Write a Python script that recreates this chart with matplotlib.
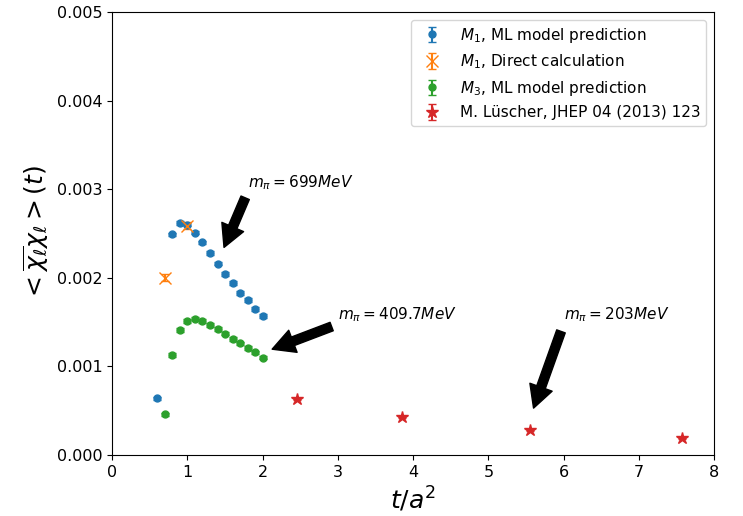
import numpy as np
import matplotlib
matplotlib.use("Agg")
import matplotlib.pyplot as plt

# --- data ---
t_m1 = [0.6, 0.8, 0.9, 1.0, 1.1, 1.2, 1.3, 1.4, 1.5, 1.6, 1.7, 1.8, 1.9, 2.0]
chi_m1 = [0.00064, 0.00249, 0.00262, 0.00260, 0.00251, 0.00240, 0.00228,
          0.00216, 0.00204, 0.00194, 0.00183, 0.00175, 0.00165, 0.00157]
err_m1 = [0.00002] * len(t_m1)

t_direct = [0.7, 1.0]
chi_direct = [0.00200, 0.00259]
err_direct = [0.00004, 0.00004]

t_m3 = [0.7, 0.8, 0.9, 1.0, 1.1, 1.2, 1.3, 1.4, 1.5, 1.6, 1.7, 1.8, 1.9, 2.0]
chi_m3 = [0.00046, 0.00113, 0.00141, 0.00151, 0.00154, 0.00151, 0.00147,
          0.00142, 0.00137, 0.00131, 0.00126, 0.00121, 0.00116, 0.00110]
err_m3 = [0.00002] * len(t_m3)

t_lus = [2.46, 3.85, 5.56, 7.57]
chi_lus = [0.00063, 0.00043, 0.00028, 0.000195]
err_lus = [0.00001] * len(t_lus)

fig = plt.figure(figsize=(7.43, 5.16), dpi=100)
ax = fig.add_axes([0.151, 0.118, 0.81, 0.859])

ax.errorbar(t_m1, chi_m1, yerr=err_m1, fmt="o", ms=5, capsize=3, color="C0",
            label=r"$M_1$, ML model prediction")
ax.errorbar(t_direct, chi_direct, yerr=err_direct, fmt="x", ms=8, capsize=3, color="C1",
            label=r"$M_1$, Direct calculation")
ax.errorbar(t_m3, chi_m3, yerr=err_m3, fmt="o", ms=5, capsize=3, color="C2",
            label=r"$M_3$, ML model prediction")
ax.errorbar(t_lus, chi_lus, yerr=err_lus, fmt="*", ms=9, capsize=3, color="C3",
            label="M. Lüscher, JHEP 04 (2013) 123")

arrow = dict(facecolor="black", shrink=0.05, width=6.5, headwidth=17, headlength=16)
ax.annotate(r"$m_{\pi}=699MeV$", xy=(1.47, 0.00231), xytext=(1.8, 0.00302),
            arrowprops=arrow, fontsize=11)
ax.annotate(r"$m_{\pi}=409.7MeV$", xy=(2.08, 0.00118), xytext=(3.0, 0.00153),
            arrowprops=arrow, fontsize=11)
ax.annotate(r"$m_{\pi}=203MeV$", xy=(5.58, 0.00048), xytext=(6.0, 0.00153),
            arrowprops=arrow, fontsize=11)

ax.set_xlim(0, 8)
ax.set_ylim(0, 0.005)
ax.set_yticks([0, 0.001, 0.002, 0.003, 0.004, 0.005])
ax.set_yticklabels(["0.000", "0.001", "0.002", "0.003", "0.004", "0.005"])
ax.tick_params(labelsize=11.5)
ax.set_xlabel(r"$t/a^2$", fontsize=18)
ax.set_ylabel(r"$<\overline{\chi_{\ell}}\chi_{\ell}>(t)$", fontsize=18)
ax.legend(loc="upper right", fontsize=11)

fig.savefig("out.png", dpi=100)
